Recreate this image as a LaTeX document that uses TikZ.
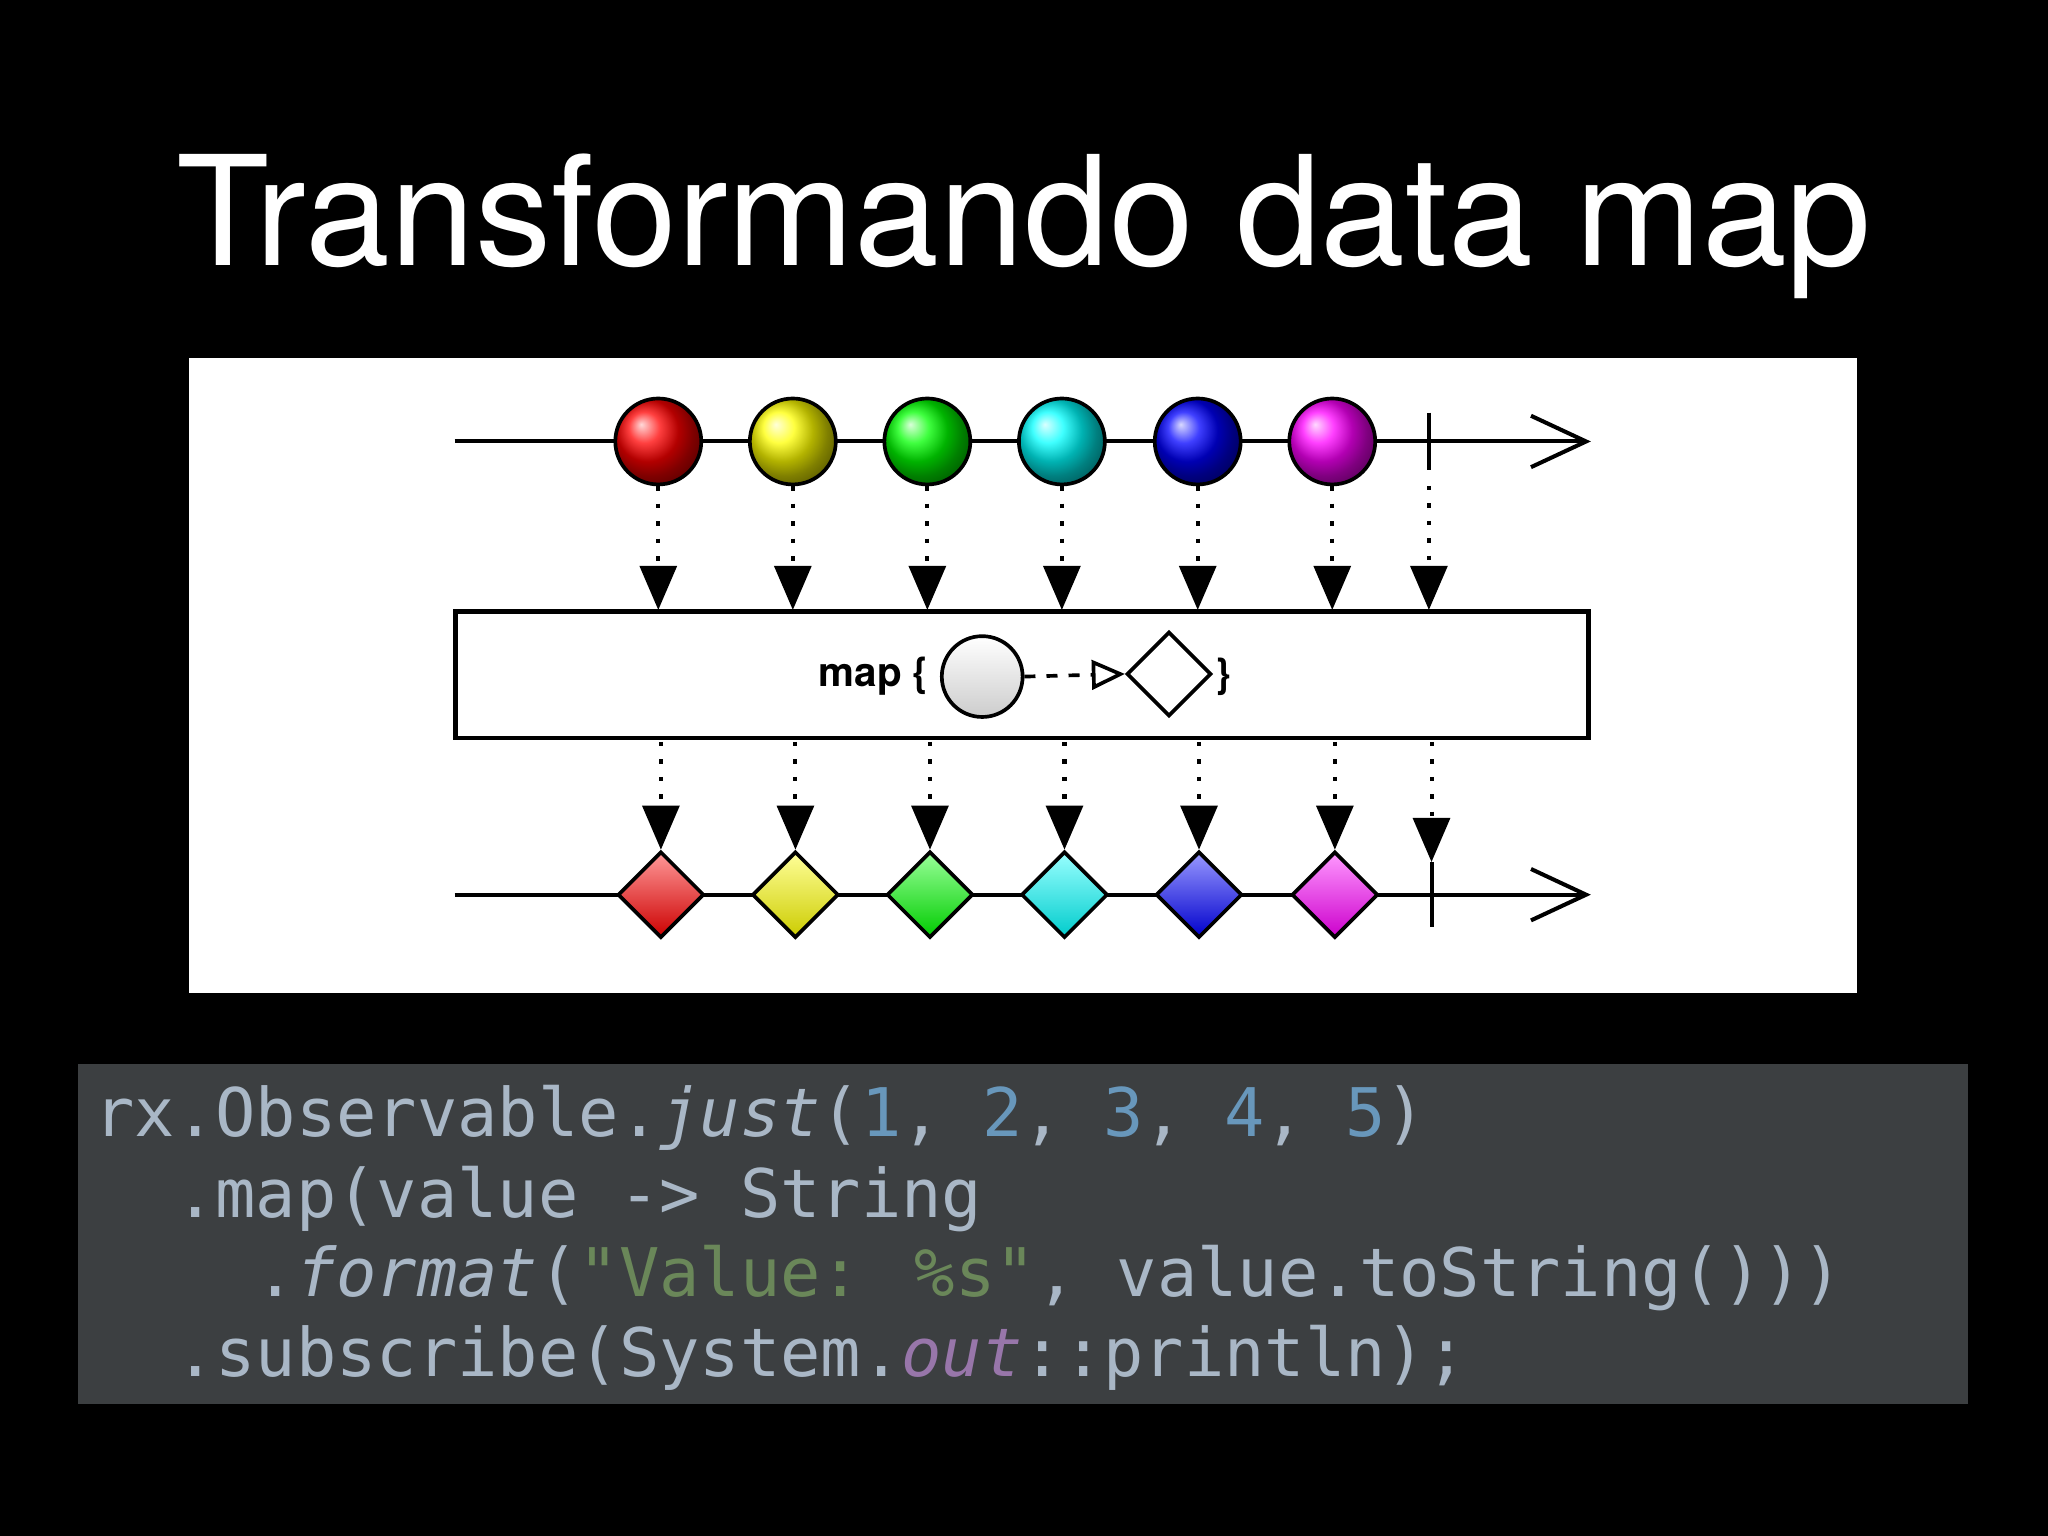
\documentclass[tikz,border=0pt]{standalone}
\usepackage{fontspec}
\setmainfont{TeX Gyre Heros}
\newfontfamily\codefont{DejaVu Sans Mono}
\usetikzlibrary{arrows.meta,shapes.geometric}
\definecolor{cbg}{HTML}{3C3F41}
\definecolor{ctx}{HTML}{A9B7C6}
\definecolor{cnum}{HTML}{6897BB}
\definecolor{cstr}{HTML}{6A8759}
\definecolor{cpur}{HTML}{9876AA}
\tikzset{
 tl/.style={line width=2.2pt,-{Straight Barb[length=30,width=28,line width=2.2pt]}},
 dotarr/.style={line width=2.2pt,dash pattern=on 2.5pt off 7pt,-{Triangle[length=24,width=20]}},
 ball/.style={circle,minimum size=46.8pt,inner sep=0,draw=black,line width=2pt},
 dia/.style={diamond,minimum size=47pt,inner sep=0,draw=black,line width=2pt,aspect=1},
 term/.style={line width=2.2pt},
 code/.style={anchor=base west,inner sep=0,font=\codefont\fontsize{36.5}{40}\selectfont,text=ctx}
}
\begin{document}
\begin{tikzpicture}[x=0.025cm,y=-0.025cm]
\fill[black] (0,0) rectangle (1568,1176);
\useasboundingbox (0,0) rectangle (1568,1176);
\node[text=white,font=\fontsize{83}{90}\selectfont,anchor=base] (title) at (784,203) {Transformando data map};
\fill[white] (145,274) rectangle (1422,760);
\coordinate (ts) at (348,338); \coordinate (te) at (1218,338);
\draw[tl] (ts) -- (te);
\coordinate (bs) at (348,685); \coordinate (be) at (1218,685);
\draw[tl] (bs) -- (be);
\node[draw=black,line width=2.5pt,fill=white,minimum width=617pt,minimum height=69pt,inner sep=0] (mapbox) at (782.5,516.5) {};
\foreach \x/\xb/\c [count=\i] in {504/506/red,607/609/yellow,710/712/green,813/815/cyan,917/918/blue,1020/1022/magenta}{
  \node[ball,ball color=\c] (c\i) at (\x,338) {};
  \node[dia,top color=\c!40!white,bottom color=\c!80!black,shading angle=0] (d\i) at (\xb,685) {};
  \coordinate (u\i) at (\x,467); \coordinate (v\i) at (\xb,568);
  \draw[dotarr] (c\i.south) -- (u\i);
  \draw[dotarr] (v\i) -- (d\i.north);
}
\coordinate (ta) at (1094,316); \coordinate (tb) at (1094,360);
\draw[term] (ta) -- (tb);
\coordinate (tc) at (1094,372); \coordinate (td) at (1094,467);
\draw[dotarr] (tc) -- (td);
\coordinate (tf) at (1096,568); \coordinate (tg) at (1096,660);
\draw[dotarr] (tf) -- (tg);
\coordinate (th) at (1096,660); \coordinate (ti) at (1096,710);
\draw[term] (th) -- (ti);
\node[font=\bfseries\fontsize{22}{26}\selectfont,anchor=east] (maptxt) at (716,518) {map \{};
\node[circle,minimum size=44pt,inner sep=0,draw=black,line width=2pt,top color=white,bottom color=gray!40] (mc) at (752,518) {};
\node[dia,minimum size=46pt,fill=white] (md) at (895,516) {};
\node[font=\bfseries\fontsize{22}{26}\selectfont,anchor=west] (mclose) at (926,518) {\}};
\draw[line width=2pt,dash pattern=on 6pt off 6pt,-{Triangle[open,length=18,width=16,line width=2pt]}] (mc.east) -- (md.west);
\fill[cbg] (60,815) rectangle (1507,1075);
\node[code] (l1) at (72,870) {rx.Observable.\textit{just}(\textcolor{cnum}{1}, \textcolor{cnum}{2}, \textcolor{cnum}{3}, \textcolor{cnum}{4}, \textcolor{cnum}{5})};
\node[code] (l2) at (72,932) {\ \ .map(value -> String};
\node[code] (l3) at (72,993) {\ \ \ \ .\textit{format}(\textcolor{cstr}{"Value: \%s"}, value.toString()))};
\node[code] (l4) at (72,1054) {\ \ .subscribe(System.\textcolor{cpur}{\textit{out}}::println);};
\end{tikzpicture}
\end{document}
